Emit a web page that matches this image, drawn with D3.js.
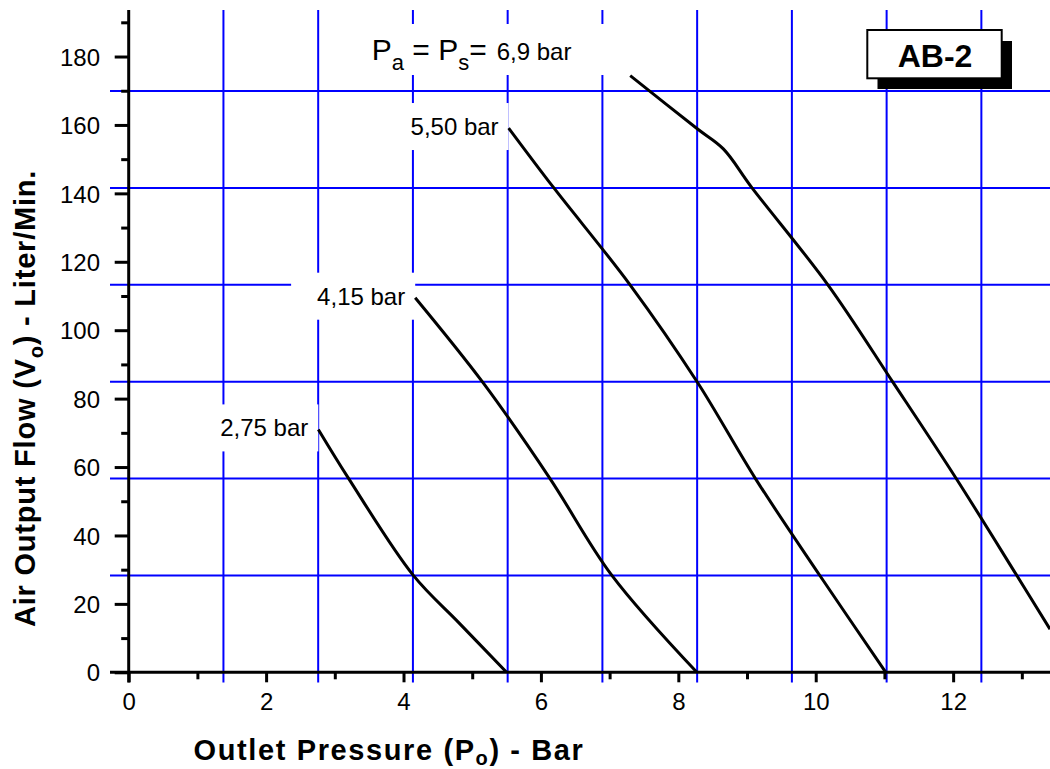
<!DOCTYPE html>
<html><head><meta charset="utf-8">
<script src="https://cdn.jsdelivr.net/npm/d3@7"></script>
<style>body{margin:0;background:#fff} svg{display:block}</style>
</head><body>
<svg id="c" width="1050" height="769"></svg>
<script>
// ---------- data ----------
const seriesNames = ["2,75 bar", "4,15 bar", "5,50 bar", "6,9 bar"];
const flow275 = [[2.76,71.0],[3.2,56.7],[4.14,28.4],[4.8,14.6],[5.5,0]];
const flow415 = [[4.17,109.5],[5.16,84.6],[6.13,56.7],[7.03,28.4],[8.27,0]];
const flow550 = [[5.53,159.1],[6.18,141.8],[7.3,113.2],[8.28,84.7],[9.12,56.7],[10.06,28.3],[11.02,0]];
const flow690 = [[7.3,174.4],[8.28,158.8],[8.655,153.0],[9.07,141.7],[10.18,113.2],[11.13,84.6],[12.04,56.8],[12.93,28.2],[13.41,12.6]];
const xTicks = [0,2,4,6,8,10,12];
const xTickLabels = ["0","2","4","6","8","10","12"];
const xMinor = [1,3,5,7,9,11,13];
const yTicks = [0,20,40,60,80,100,120,140,160,180];
const yTickLabels = ["0","20","40","60","80","100","120","140","160","180"];
const yMinor = [10,30,50,70,90,110,130,150,170,190];
const gridX = [1.379,2.758,4.137,5.516,6.895,8.274,9.653,11.032,12.411]; // 20 psi steps
const gridY = [28.32,56.63,84.95,113.27,141.58,169.9];                   // 1 cfm steps
const xTitle = ["Outlet Pressure (P", "o", ") - Bar"];
const yTitle = ["Air Output Flow (V", "o", ") - Liter/Min."];
const boxLabel = "AB-2";
const mainLabel = ["P","a"," = P","s","=","6,9 bar"];

// ---------- drawing ----------
const FONT = 'Arial, "Liberation Sans", Helvetica, sans-serif';
const svg = d3.select('#c');
const x = d3.scaleLinear().domain([0, 13.41]).range([128.7, 1050]);
const y = d3.scaleLinear().domain([0, 193.6]).range([672.3, 10]);
const BLUE = '#0000ff';

// grid
const gg = svg.append('g');
gg.selectAll('line.gx').data(gridX).join('line').attr('class','gx')
  .attr('x1', d=>x(d)).attr('x2', d=>x(d)).attr('y1', y(193.6)).attr('y2', 682.5)
  .attr('stroke', BLUE).attr('stroke-width', 2);
gg.selectAll('line.gy').data(gridY).join('line').attr('class','gy')
  .attr('y1', d=>y(d)).attr('y2', d=>y(d)).attr('x1', 110).attr('x2', 1050)
  .attr('stroke', BLUE).attr('stroke-width', 2);

// series
const allSeries = [flow275, flow415, flow550, flow690];
const line = d3.line().x(d=>x(d[0])).y(d=>y(d[1])).curve(d3.curveCatmullRom.alpha(0.5));

// labels with white boxes
const lg = svg.append('g');
allSeries.slice(0,3).forEach((s,i)=>{
  const p = s[0];
  const t = lg.append('text').attr('x', x(p[0]) - 10).attr('y', y(p[1]) + 7)
    .attr('text-anchor','end').attr('font-family', FONT).attr('font-size', 24)
    .attr('fill','#000').text(seriesNames[i]);
  const bb = t.node().getBBox();
  lg.insert('rect','text').attr('x', bb.x - 26).attr('y', bb.y - 10)
    .attr('width', bb.width + 36).attr('height', bb.height + 20).attr('fill','#fff');
});
// main label P_a = P_s = 6,9 bar
{
  const p = flow690[0];
  const t = lg.append('text').attr('x', 371.7).attr('y', 60)
    .attr('font-family', FONT).attr('fill','#000');
  t.append('tspan').attr('font-size',30).text(mainLabel[0]);
  t.append('tspan').attr('font-size',22).attr('dy',10).text(mainLabel[1]);
  t.append('tspan').attr('font-size',30).attr('dy',-10).text(mainLabel[2]);
  t.append('tspan').attr('font-size',22).attr('dy',10).text(mainLabel[3]);
  t.append('tspan').attr('font-size',30).attr('dy',-10).text(mainLabel[4]);
  t.append('tspan').attr('font-size',24).attr('dx',10).text(mainLabel[5]);
  const bb = t.node().getBBox();
  lg.insert('rect','text').attr('x', bb.x - 16).attr('y', 24)
    .attr('width', x(p[0]) - 18 - (bb.x - 16)).attr('height', 51).attr('fill','#fff');
}

svg.append('g').selectAll('path').data(allSeries).join('path')
  .attr('d', line).attr('fill','none').attr('stroke','#000')
  .attr('stroke-width', 3).attr('stroke-linejoin','round');

// axes
function styleAxis(g){
  g.select('.domain').remove();
  g.selectAll('line').attr('stroke','#000').attr('stroke-width',3);
  g.selectAll('text').attr('font-family', FONT).attr('font-size', 24).attr('fill','#000');
}
svg.append('g').attr('transform',`translate(${x(0)},0)`)
  .call(d3.axisLeft(y).tickValues(yTicks).tickSize(14).tickPadding(14.7).tickFormat((d,i)=>yTickLabels[i]))
  .call(styleAxis).selectAll('text').attr('dy','0.36em');
svg.append('g').attr('transform',`translate(${x(0)},0)`)
  .call(d3.axisLeft(y).tickValues(yMinor).tickSize(7.5).tickFormat(''))
  .call(styleAxis);
svg.append('g').attr('transform',`translate(0,${y(0)})`)
  .call(d3.axisBottom(x).tickValues(xTicks).tickSize(10).tickPadding(10.7).tickFormat((d,i)=>xTickLabels[i]))
  .call(styleAxis);
svg.append('g').attr('transform',`translate(0,${y(0)})`)
  .call(d3.axisBottom(x).tickValues(xMinor).tickSize(7).tickFormat(''))
  .call(styleAxis);
svg.append('line').attr('x1',x(0)).attr('x2',x(0)).attr('y1',10).attr('y2',682.5)
  .attr('stroke','#000').attr('stroke-width',3);
svg.append('line').attr('x1',110).attr('x2',1050).attr('y1',y(0)).attr('y2',y(0))
  .attr('stroke','#000').attr('stroke-width',3);

// axis titles
function title(parts, attrs, target, sub){
  const t = svg.append('text').attr('font-family', FONT).attr('font-weight','bold').attr('fill','#000');
  Object.entries(attrs).forEach(([k,v])=>t.attr(k,v));
  t.append('tspan').attr('font-size',29).text(parts[0]);
  t.append('tspan').attr('font-size',20).attr('dy',sub).text(parts[1]);
  t.append('tspan').attr('font-size',29).attr('dy',-sub).text(parts[2]);
  const n = (parts[0]+parts[1]+parts[2]).length;
  const w = t.node().getComputedTextLength();
  t.attr('letter-spacing', ((target - w)/n).toFixed(2));
  return t;
}
title(xTitle, {x:193.6, y:760}, 391, 5);
title(yTitle, {transform:'translate(35,627) rotate(-90)'}, 457, 8);

// AB-2 box
svg.append('rect').attr('x',877.5).attr('y',41).attr('width',134.5).attr('height',48).attr('fill','#000');
svg.append('rect').attr('x',867.3).attr('y',30).attr('width',134.4).attr('height',48.3)
  .attr('fill','#fff').attr('stroke','#000').attr('stroke-width',2);
svg.append('text').attr('x',935).attr('y',66.5).attr('text-anchor','middle')
  .attr('font-family',FONT).attr('font-weight','bold').attr('font-size',32).attr('fill','#000').text(boxLabel);
</script>
</body></html>
